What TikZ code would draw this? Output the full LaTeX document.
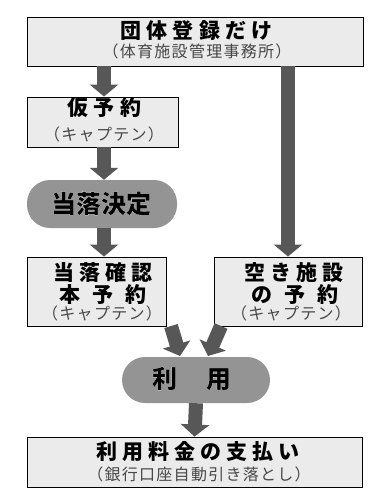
\documentclass[tikz,border=0pt]{standalone}
\usepackage{fontspec}
\usetikzlibrary{arrows.meta}
\newfontfamily\jpttl[LetterSpace=24]{Noto Sans CJK JP}
\newfontfamily\jpsub[LetterSpace=8]{Noto Sans CJK JP}
\newfontfamily\jppill{Noto Sans CJK JP}
\newcommand\halostart{\special{pdf:literal direct q 2 Tr 0.1 w 1 1 1 RG 0 0 0 rg}}
\newcommand\haloend{\special{pdf:literal direct Q}}
\tikzset{
  x=1pt, y=-1pt,
  boxnode/.style={draw=black, line width=0.9pt, fill=black!8, minimum width=#1, inner sep=0pt},
  pillnode/.style={fill=black!42, rounded corners=23pt, minimum width=#1, inner sep=0pt},
  ttl/.style={font=\jpttl\bfseries\fontsize{21pt}{23pt}\selectfont, inner sep=0pt},
  sub/.style={font=\jpsub\fontsize{16pt}{18pt}\selectfont, text=black!72, inner sep=0pt},
  pilltxt/.style={font=\jppill\bfseries\fontsize{25pt}{27pt}\selectfont, inner sep=0pt},
  blockarrow/.style={draw=black!66, line width=14pt, -{Triangle[width=28pt,length=12pt]}}
}
\begin{document}
\begin{tikzpicture}
\useasboundingbox[fill=white] (0,0) rectangle (384,495);
% boxes
\node[boxnode=336pt, minimum height=49pt] (top) at (195,41.5) {};
\node[boxnode=151pt, minimum height=50pt] (kari) at (102.5,122) {};
\node[pillnode=150pt, minimum height=48pt] (kettei) at (102,204) {};
\node[boxnode=139pt, minimum height=69pt] (hon) at (96.5,291.5) {};
\node[boxnode=148pt, minimum height=69pt] (aki) at (288,291.5) {};
\node[pillnode=148pt, minimum height=46pt] (riyou) at (196,380) {};
\node[boxnode=335pt, minimum height=50pt] (pay) at (194.5,462) {};
% arrows
\coordinate (a1s) at (104,66);
\draw[blockarrow] (top.south -| a1s) -- (kari.north -| a1s);
\draw[blockarrow] (kari.south -| a1s) -- (kettei.north -| a1s);
\draw[blockarrow] (kettei.south -| a1s) -- (hon.north -| a1s);
\draw[blockarrow] (top.south -| aki.north) -- (aki.north);
\coordinate (d1s) at (171,326);
\coordinate (d1e) at (180,356);
\coordinate (d2s) at (221,326);
\coordinate (d2e) at (208,356);
\draw[blockarrow] (d1s) -- (d1e);
\draw[blockarrow] (d2s) -- (d2e);
\draw[blockarrow] (riyou.south) -- (pay.north);
% texts
\node[ttl] (t1) at (196.5,31) {団体登録だけ};
\node[sub] (s1) at (197,51) {（体育施設管理事務所）};
\node[ttl] (t2) at (104.5,108) {仮予約};
\node[sub] (s2) at (104,134) {（キャプテン）};
\node[pilltxt] (p1) at (101,203.5) {\halostart 当落決定\haloend};
\node[ttl] (t3a) at (103,273) {当落確認};
\node[ttl] (t3b) at (103,295) {本\hspace{12pt}予\hspace{12pt}約};
\node[sub] (s3) at (102,313) {（キャプテン）};
\node[ttl] (t4a) at (294,273) {空き施設};
\node[ttl] (t4b) at (295,295) {の\hspace{12pt}予\hspace{12pt}約};
\node[sub] (s4) at (291,313) {（キャプテン）};
\node[pilltxt] (p2) at (191.5,378.5) {\halostart 利\hspace{29pt}用\haloend};
\node[ttl] (t5) at (198,451.5) {利用料金の支払い};
\node[sub] (s5) at (199,474) {（銀行口座自動引き落とし）};
\end{tikzpicture}
\end{document}
